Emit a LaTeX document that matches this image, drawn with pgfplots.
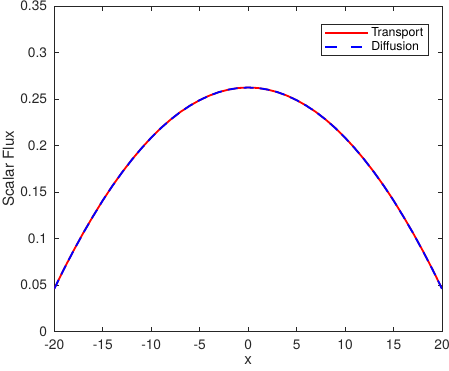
\documentclass[border=0pt]{standalone}
\usepackage{fontspec}
\setmainfont{TeX Gyre Heros}
\usepackage{pgfplots}
\pgfplotsset{compat=1.18}
\definecolor{axgray}{RGB}{38,38,38}

% scalar flux across the slab
\pgfplotstableread{
x flux
-20 0.0461
-19 0.0672
-18 0.0872
-17 0.1062
-16 0.1240
-15 0.1410
-14 0.1567
-13 0.1713
-12 0.1848
-11 0.1972
-10 0.2086
-9 0.2189
-8 0.2280
-7 0.2361
-6 0.2430
-5 0.2489
-4 0.2538
-3 0.2576
-2 0.2603
-1 0.2620
0 0.2625
1 0.2620
2 0.2603
3 0.2576
4 0.2538
5 0.2489
6 0.2430
7 0.2361
8 0.2280
9 0.2189
10 0.2086
11 0.1972
12 0.1848
13 0.1713
14 0.1567
15 0.1410
16 0.1240
17 0.1062
18 0.0872
19 0.0672
20 0.0461
}\transport
\pgfplotstableread{
x flux
-20 0.0459
-19 0.0671
-18 0.0871
-17 0.1061
-16 0.1239
-15 0.1409
-14 0.1566
-13 0.1712
-12 0.1847
-11 0.1971
-10 0.2085
-9 0.2188
-8 0.2280
-7 0.2361
-6 0.2430
-5 0.2489
-4 0.2538
-3 0.2576
-2 0.2603
-1 0.2620
0 0.2625
1 0.2620
2 0.2603
3 0.2576
4 0.2538
5 0.2489
6 0.2430
7 0.2361
8 0.2280
9 0.2188
10 0.2085
11 0.1971
12 0.1847
13 0.1712
14 0.1566
15 0.1409
16 0.1239
17 0.1061
18 0.0871
19 0.0671
20 0.0459
}\diffusion

\begin{document}
\begin{tikzpicture}
\begin{axis}[
    scale only axis,
    width=388bp, height=325.5bp,
    xmin=-20, xmax=20, ymin=0, ymax=0.35,
    xtick={-20,-15,-10,-5,0,5,10,15,20},
    ytick={0,0.05,0.1,0.15,0.2,0.25,0.3,0.35},
    yticklabel style={/pgf/number format/fixed, /pgf/number format/precision=2,
        inner sep=0pt, xshift=-7bp},
    xticklabel style={inner sep=0pt, yshift=-8bp},
    /pgf/number format/assume math mode=true,
    tick align=inside,
    major tick length=4.5bp,
    axis line style={axgray, line width=0.8bp},
    every tick/.style={axgray, line width=0.8bp},
    tick label style={font=\fontsize{13.8}{15}\selectfont, text=axgray},
    label style={font=\fontsize{15.2}{17}\selectfont, text=axgray},
    xlabel={x}, ylabel={Scalar Flux},
    xlabel style={at={(axis description cs:0.5,0)}, yshift=-33.3bp, anchor=base},
    ylabel style={at={(axis description cs:-0.1039,0.5)}, anchor=base},
    legend style={at={(0.9657,0.9453)}, anchor=north east,
        draw=axgray, line width=0.8bp,
        font=\fontsize{12.4}{14}\selectfont, text=black,
        inner xsep=3bp, inner ysep=1bp, row sep=0bp},
    legend cell align=left,
]
\addplot[red, line width=1.8bp,
    legend image code/.code={\draw[red, line width=1.8bp] (0bp,0bp) -- (43bp,0bp);}]
    table[x=x, y=flux] {\transport};
\addplot[blue, line width=1.8bp, dash pattern=on 10bp off 6bp,
    legend image code/.code={\draw[blue, line width=1.8bp, dash pattern=on 11.5bp off 14bp] (0bp,0bp) -- (43bp,0bp);}]
    table[x=x, y=flux] {\diffusion};
\legend{Transport, Diffusion}
\end{axis}
\pgfresetboundingbox
\path[use as bounding box] ([shift={(-54.3bp,-39.3bp)}]current axis.south west)
    rectangle ([shift={(7bp,6.2bp)}]current axis.north east);
\end{tikzpicture}
\end{document}
